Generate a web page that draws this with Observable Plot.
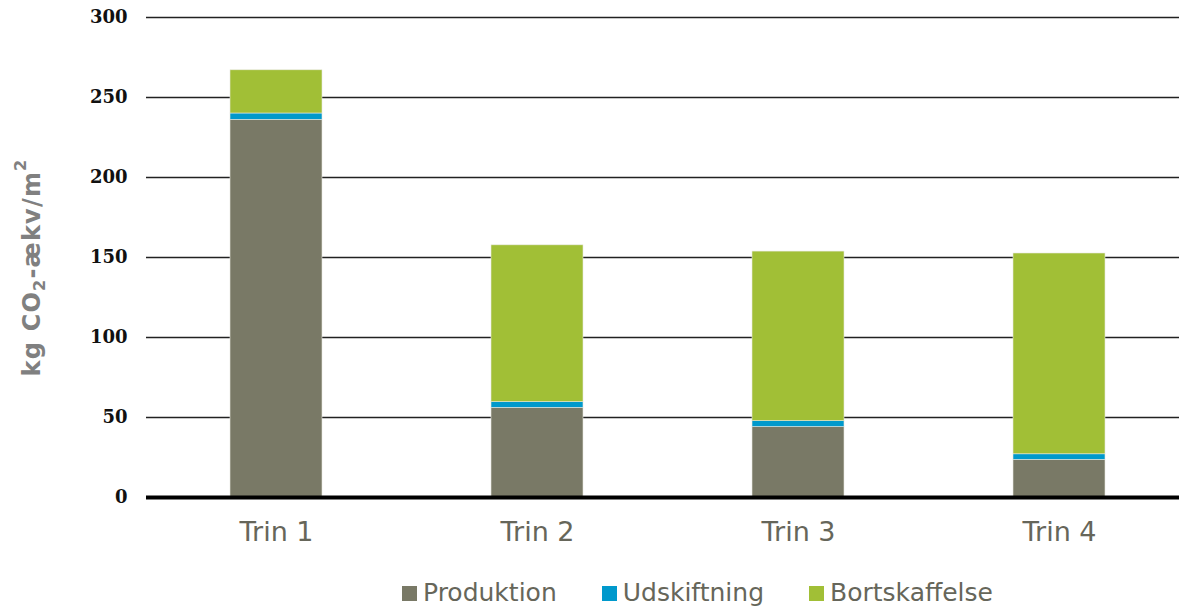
<!DOCTYPE html>
<html>
<head>
<meta charset="utf-8">
<script src="https://cdn.jsdelivr.net/npm/d3@7"></script>
<script src="https://cdn.jsdelivr.net/npm/@observablehq/plot@0.6"></script>
<style>
  html, body { margin: 0; padding: 0; background: #fff; }
  #wrap { position: relative; width: 1179px; height: 607px; overflow: hidden; }
  #legend { position: absolute; left: 402px; top: 577px; display: flex; gap: 45px;
            font-family: "DejaVu Sans", Verdana, sans-serif; font-size: 25px; color: #66665a; line-height: 32px; }
  .item { display: flex; align-items: center; gap: 6px; }
  .sw { width: 15px; height: 15px; display: inline-block; }
</style>
</head>
<body>
<div id="wrap"><div id="chart"></div><div id="legend"></div></div>
<script>
const categories = ["Trin 1", "Trin 2", "Trin 3", "Trin 4"];
const seriesNames = ["Produktion", "Udskiftning", "Bortskaffelse"];
const seriesColors = ["#797966", "#0099CC", "#A1BF36"];
const produktion = [236, 56, 44, 23.5];
const udskiftning = [4, 3.6, 3.7, 3.5];
const bortskaffelse = [27, 98, 106, 125.5];
const yTicks = [0, 50, 100, 150, 200, 250, 300];
const yLabel = "kg CO\u2082-\u00e6kv/m\u00b2";

const seriesValues = [produktion, udskiftning, bortskaffelse];
const data = [];
seriesNames.forEach((s, i) => categories.forEach((c, j) => data.push({cat: c, series: s, value: seriesValues[i][j]})));

const chart = Plot.plot({
  width: 1179,
  height: 555,
  marginTop: 17,
  marginBottom: 58,
  marginLeft: 146,
  marginRight: 0,
  x: {domain: categories, range: [146, 1190], paddingInner: 0.6475, paddingOuter: 0.32375, label: null},
  y: {domain: [0, 300], label: null},
  color: {domain: seriesNames, range: seriesColors},
  style: {background: "#fff"},
  marks: [
    Plot.ruleY(yTicks.filter(d => d > 0), {stroke: "#222", strokeWidth: 1.3}),
    Plot.barY(data, {x: "cat", y: "value", fill: "series", order: seriesNames, stroke: "#e8e8e0", strokeWidth: 0.6}),
    Plot.ruleY([0], {stroke: "#000", strokeWidth: 4}),
    Plot.axisY({ticks: yTicks, tickSize: 0, tickPadding: 19, label: null,
      fontFamily: "DejaVu Serif", fontWeight: "bold", fontSize: 18, fill: "#111"}),
    Plot.axisX({tickSize: 0, tickPadding: 24, label: null,
      fontFamily: "DejaVu Sans", fontSize: 27, fill: "#66665a"}),
    Plot.text([yLabel], {frameAnchor: "left", rotate: -90, dx: -114, dy: 10, text: d => d, textAnchor: "middle",
      fontFamily: "DejaVu Sans", fontWeight: "bold", fontSize: 24, fill: "#808080"})
  ]
});
document.getElementById("chart").appendChild(chart);
chart.querySelectorAll("text").forEach(t => {
  if (t.textContent === yLabel) {
    t.style.letterSpacing = "1.2px";
    t.textContent = "";
    const parts = [["kg CO", null], ["2", "sub"], ["-\u00e6kv/m", null], ["2", "sup"]];
    parts.forEach(([s, kind]) => {
      const ts = document.createElementNS("http://www.w3.org/2000/svg", "tspan");
      ts.textContent = s;
      if (kind === "sub") { ts.setAttribute("font-size", "16"); ts.setAttribute("dy", "5"); }
      if (kind === "sup") { ts.setAttribute("font-size", "16"); ts.setAttribute("dy", "-14"); }
      if (kind === null && s.startsWith("-")) ts.setAttribute("dy", "-5");
      t.appendChild(ts);
    });
  }
});

const legend = document.getElementById("legend");
seriesNames.forEach((s, i) => {
  const it = document.createElement("div");
  it.className = "item";
  it.innerHTML = `<span class="sw" style="background:${seriesColors[i]}"></span><span>${s}</span>`;
  legend.appendChild(it);
});
</script>
</body>
</html>
